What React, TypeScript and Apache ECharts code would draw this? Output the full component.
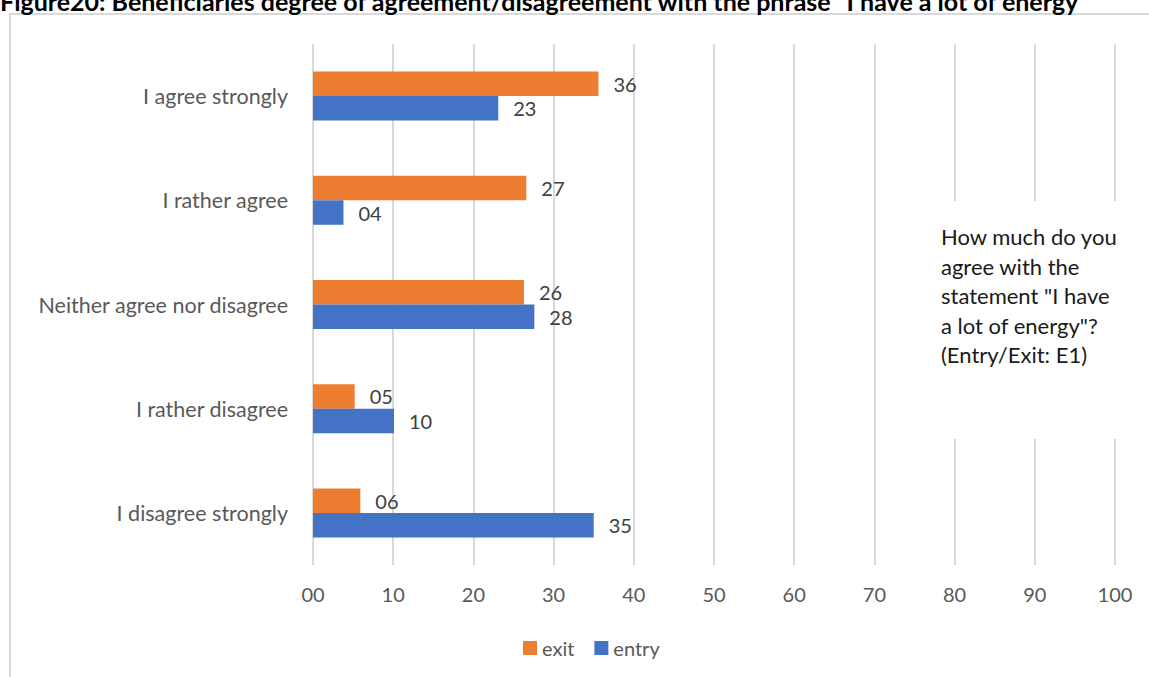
import React, { useEffect, useRef } from "react";
import * as echarts from "echarts";

const categories = [
  "I agree strongly",
  "I rather agree",
  "Neither agree nor disagree",
  "I rather disagree",
  "I disagree strongly",
];
const exitValues = [35.6, 26.6, 26.3, 5.2, 5.9];
const entryValues = [23.1, 3.8, 27.6, 10.1, 35.0];
const xTicks = [0, 10, 20, 30, 40, 50, 60, 70, 80, 90, 100];
const titleText =
  'Figure20: Beneficiaries degree of agreement/disagreement with the phrase "I have a lot of energy"';
const noteLines = [
  "How much do you",
  "agree with the",
  'statement "I have',
  'a lot of energy"?',
  "(Entry/Exit: E1)",
];

const FONT = "Lato, 'Open Sans', sans-serif";
const pad2 = (v: number) => String(Math.round(v)).padStart(2, "0");

export default function App() {
  const ref = useRef<HTMLDivElement>(null);
  useEffect(() => {
    if (!ref.current) return;
    const chart = echarts.init(ref.current, null, { renderer: "svg" });
    const label = {
      show: true,
      position: "right" as const,
      distance: 15,
      color: "#404040",
      fontSize: 20,
      fontFamily: FONT,
      formatter: (p: any) => pad2(p.value),
    };
    chart.setOption({
      animation: false,
      backgroundColor: "#ffffff",
      textStyle: { fontFamily: FONT },
      grid: { left: 313, right: 34, top: 44, bottom: 112 },
      xAxis: {
        type: "value",
        min: 0,
        max: 100,
        interval: 10,
        axisLine: { show: false },
        axisTick: { show: false },
        splitLine: { show: true, lineStyle: { color: "#d9d9d9", width: 2 } },
        axisLabel: {
          color: "#595959",
          fontSize: 20,
          margin: 19,
          fontFamily: FONT,
          formatter: (v: number) => (xTicks.includes(v) ? pad2(v) : ""),
        },
      },
      yAxis: {
        type: "category",
        data: categories,
        inverse: true,
        axisLine: { show: false },
        axisTick: { show: false },
        axisLabel: { color: "#595959", fontSize: 21.5, margin: 25, fontFamily: FONT },
      },
      legend: {
        data: ["exit", "entry"],
        left: 518,
        top: 633,
        itemWidth: 14,
        itemHeight: 14,
        itemGap: 20,
        icon: "rect",
        textStyle: { color: "#595959", fontSize: 20, fontFamily: FONT },
      },
      series: [
        {
          name: "exit",
          type: "bar",
          data: exitValues,
          barGap: "0%",
          barCategoryGap: "53%",
          itemStyle: { color: "#ed7d31" },
          label,
        },
        {
          name: "entry",
          type: "bar",
          data: entryValues,
          barGap: "0%",
          barCategoryGap: "53%",
          itemStyle: { color: "#4472c4" },
          label,
        },
      ],
      graphic: [
        {
          type: "rect",
          z: 100,
          shape: { x: 10, y: 14, width: 1200, height: 700 },
          style: { fill: "none", stroke: "#d9d9d9", lineWidth: 2 },
        },
        {
          type: "text",
          z: 100,
          x: 0,
          y: 1,
          style: {
            text: titleText,
            font: `bold 25px ${FONT}`,
            verticalAlign: "middle",
            fill: "#000000",
          },
        },
        {
          type: "rect",
          z: 100,
          shape: { x: 925, y: 201, width: 205, height: 238 },
          style: { fill: "#ffffff" },
        },
        {
          type: "text",
          z: 101,
          x: 941,
          y: 222,
          style: {
            text: noteLines.join("\n"),
            font: `22px ${FONT}`,
            lineHeight: 29.5,
            fill: "#1a1a1a",
          },
        },
      ],
    });
    return () => chart.dispose();
  }, []);
  return (
    <div
      ref={ref}
      style={{ position: "absolute", left: 0, top: 0, width: 1149, height: 677 }}
    />
  );
}
